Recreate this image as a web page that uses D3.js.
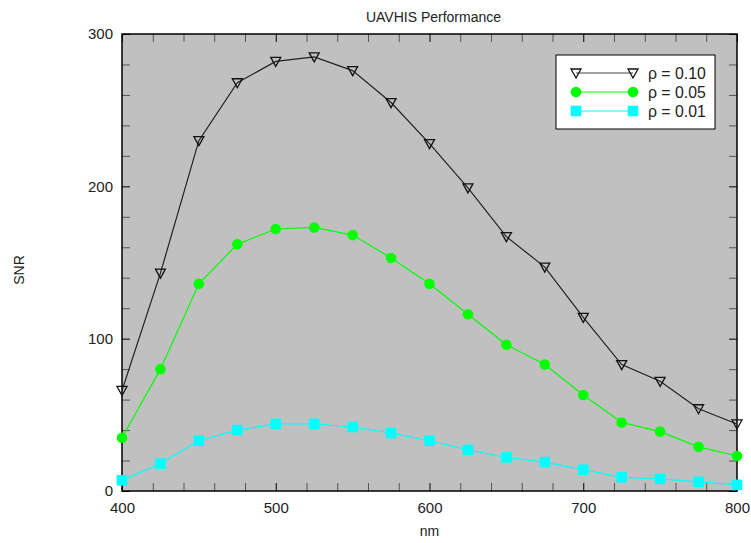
<!DOCTYPE html>
<html lang="en">
<head>
    <meta charset="utf-8">
    <script type="text/javascript" src="https://d3js.org/d3.v7.min.js"></script>
    <style>
        body { margin: 0; background: #fff; }
        text { font-family: "Liberation Sans", Arial, sans-serif; fill: #222; }
    </style>
</head>

<body>
    <script type="text/javascript">
        // Chart size
        let w = 751;
        let h = 543;
        let margin = {top: 34, right: 14, bottom: 52, left: 122};
        let pw = w - margin.left - margin.right;
        let ph = h - margin.top - margin.bottom;

        // Data
        let wavelengths = [400, 425, 450, 475, 500, 525, 550, 575, 600, 625, 650, 675, 700, 725, 750, 775, 800];
        let snr10 = [66, 143, 230, 268, 282, 285, 276, 255, 228, 199, 167, 147, 114, 83, 72, 54, 44];
        let snr05 = [35, 80, 136, 162, 172, 173, 168, 153, 136, 116, 96, 83, 63, 45, 39, 29, 23];
        let snr01 = [7, 18, 33, 40, 44, 44, 42, 38, 33, 27, 22, 19, 14, 9, 8, 6, 4];
        let seriesNames = ["\u03c1 = 0.10", "\u03c1 = 0.05", "\u03c1 = 0.01"];
        let xTicks = [400, 500, 600, 700, 800];
        let yTicks = [0, 100, 200, 300];

        let series = [
            {name: seriesNames[0], values: snr10, color: "#222", marker: "tri"},
            {name: seriesNames[1], values: snr05, color: "#00ff00", marker: "circle"},
            {name: seriesNames[2], values: snr01, color: "#00ffff", marker: "square"}
        ];

        let svg = d3.select("body").append("svg")
                    .attr("width", w)
                    .attr("height", h);

        let g = svg.append("g")
                   .attr("transform", `translate(${margin.left},${margin.top})`);

        // Scales
        let x = d3.scaleLinear().domain([400, 800]).range([0, pw]);
        let y = d3.scaleLinear().domain([0, 300]).range([ph, 0]);

        // Plot background
        g.append("rect")
            .attr("width", pw)
            .attr("height", ph)
            .attr("fill", "#c0c0c0");

        // Inward ticks on all four sides
        let xMinor = d3.range(400, 801, 20);
        let yMinor = d3.range(0, 301, 20);
        let tickColor = d => (d % 100 === 0 ? "#000" : "#555");

        let styleTicks = function(sel) {
            sel.select(".domain").remove();
            sel.selectAll(".tick line").attr("stroke", tickColor);
            sel.selectAll(".tick text").remove();
        };

        g.append("g").attr("transform", `translate(0,${ph})`)
            .call(d3.axisBottom(x).tickValues(xMinor).tickSize(-8))
            .call(styleTicks);
        g.append("g")
            .call(d3.axisTop(x).tickValues(xMinor).tickSize(-8))
            .call(styleTicks);
        g.append("g")
            .call(d3.axisLeft(y).tickValues(yMinor).tickSize(-8))
            .call(styleTicks);
        g.append("g").attr("transform", `translate(${pw},0)`)
            .call(d3.axisRight(y).tickValues(yMinor).tickSize(-8))
            .call(styleTicks);

        // Tick labels
        let xLab = g.append("g").attr("transform", `translate(0,${ph})`)
            .call(d3.axisBottom(x).tickValues(xTicks).tickSize(0).tickPadding(11));
        xLab.select(".domain").remove();
        xLab.selectAll("text").attr("font-size", "15px").attr("fill", "#222");

        let yLab = g.append("g")
            .call(d3.axisLeft(y).tickValues(yTicks).tickSize(0).tickPadding(9));
        yLab.select(".domain").remove();
        yLab.selectAll("text").attr("font-size", "15px").attr("fill", "#222");

        // Plot frame
        g.append("rect")
            .attr("width", pw)
            .attr("height", ph)
            .attr("fill", "none")
            .attr("stroke", "#000")
            .attr("stroke-width", 1.5);

        // Markers
        let drawMarker = function(sel, s) {
            if (s.marker === "tri") {
                sel.append("path")
                    .attr("d", "M-5,-4 L5,-4 L0,5 Z")
                    .attr("fill", "none")
                    .attr("stroke", "#111")
                    .attr("stroke-width", 1.3);
            } else if (s.marker === "circle") {
                sel.append("circle")
                    .attr("r", 5.3)
                    .attr("fill", s.color);
            } else {
                sel.append("rect")
                    .attr("x", -5.3).attr("y", -5.3)
                    .attr("width", 10.6).attr("height", 10.6)
                    .attr("fill", s.color);
            }
        };

        let line = d3.line()
            .x((d, i) => x(wavelengths[i]))
            .y(d => y(d));

        let plot = g.append("g");
        series.slice().reverse().forEach(function(s) {
            plot.append("path")
                .datum(s.values)
                .attr("d", line)
                .attr("fill", "none")
                .attr("stroke", s.color)
                .attr("stroke-width", 1.2);
            plot.selectAll(null)
                .data(s.values)
                .join("g")
                    .attr("transform", (d, i) => `translate(${x(wavelengths[i])},${y(d)})`)
                    .each(function() { drawMarker(d3.select(this), s); });
        });

        // Legend
        let legend = svg.append("g").attr("transform", "translate(556,55)");
        legend.append("rect")
            .attr("width", 159)
            .attr("height", 74)
            .attr("fill", "#fff")
            .attr("stroke", "#000")
            .attr("stroke-width", 1);

        series.forEach(function(s, i) {
            let row = legend.append("g").attr("transform", `translate(0,${18 + i * 19})`);
            row.append("line")
                .attr("x1", 20).attr("x2", 77)
                .attr("stroke", s.color === "#222" ? "#444" : s.color)
                .attr("stroke-width", 1.2);
            [20, 77].forEach(function(px) {
                drawMarker(row.append("g").attr("transform", `translate(${px},0)`), s);
            });
            row.append("text")
                .attr("x", 92)
                .attr("y", 0)
                .attr("dy", "0.36em")
                .attr("font-size", "15.8px")
                .text(s.name);
        });

        // Title and axis labels
        svg.append("text")
            .attr("x", margin.left + pw / 2 + 4)
            .attr("y", 22)
            .attr("text-anchor", "middle")
            .attr("font-size", "14px")
            .text("UAVHIS Performance");

        svg.append("text")
            .attr("x", margin.left + pw / 2)
            .attr("y", 536)
            .attr("text-anchor", "middle")
            .attr("font-size", "14px")
            .text("nm");

        svg.append("text")
            .attr("transform", "translate(24,270) rotate(-90)")
            .attr("text-anchor", "middle")
            .attr("font-size", "14px")
            .text("SNR");
    </script>
</body>
</html>
